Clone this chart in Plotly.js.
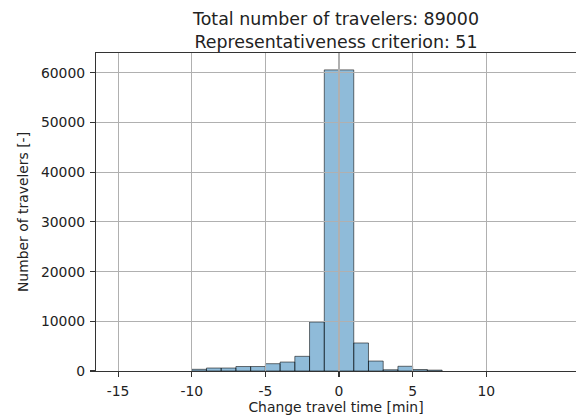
<!DOCTYPE html>
<html>
<head>
<meta charset="utf-8">
<script src="https://cdn.plot.ly/plotly-3.0.1.min.js"></script>
<style>
html, body { margin: 0; padding: 0; overflow: hidden; background: #fff; width: 576px; height: 419px; }
#chart { width: 576px; height: 419px; }
</style>
</head>
<body>
<div id="chart"></div>
<script>
// Histogram bins (change in travel time, minutes) and counts
const binLeft  = [-10, -9, -8, -7, -6, -5, -4, -3, -2, -1, 1, 2, 3, 4, 5, 6];
const binRight = [-9, -8, -7, -6, -5, -4, -3, -2, -1, 1, 2, 3, 4, 5, 6, 7];
const counts   = [340, 600, 600, 900, 900, 1470, 1800, 2950, 9850, 60600, 5640, 2000, 250, 950, 300, 180];
const xTicks = [-15, -10, -5, 0, 5, 10];
const yTicks = [0, 10000, 20000, 30000, 40000, 50000, 60000];
const titleLines = ['Total number of travelers: 89000', 'Representativeness criterion: 51'];
const xLabel = 'Change travel time [min]';
const yLabel = 'Number of travelers [-]';

const centers = binLeft.map((l, i) => (l + binRight[i]) / 2);
const widths = binLeft.map((l, i) => binRight[i] - l);

const FONT = 'DejaVu Sans, sans-serif';
const xRange = [-16.5, 16.09];
const yRange = [0, 64000];

const bars = {
  type: 'bar',
  x: centers,
  y: counts,
  width: widths,
  xaxis: 'x',
  yaxis: 'y',
  marker: { color: 'rgba(31,119,180,0.5)', line: { color: 'rgba(0,0,0,0.55)', width: 1 } },
  hoverinfo: 'x+y',
  showlegend: false
};
const overlay = { type: 'scatter', x: [], y: [], xaxis: 'x2', yaxis: 'y2', showlegend: false, hoverinfo: 'skip' };

const layout = {
  width: 576, height: 419,
  margin: { l: 96, r: 0, t: 53, b: 48 },
  paper_bgcolor: '#fff',
  plot_bgcolor: 'rgba(0,0,0,0)',
  font: { family: FONT, size: 13.9, color: '#222' },
  bargap: 0,
  title: {
    text: titleLines.join('<br>'),
    font: { family: FONT, size: 17.4, color: '#222' },
    x: 0.5, xref: 'paper', xanchor: 'center',
    y: 1, yref: 'container', yanchor: 'top',
    pad: { t: 25 }
  },
  xaxis: { range: xRange, visible: false, fixedrange: true },
  yaxis: { range: yRange, visible: false, fixedrange: true },
  xaxis2: {
    anchor: 'y2', domain: [0, 1], range: xRange,
    tickmode: 'array', tickvals: xTicks, ticktext: xTicks.map(String),
    showgrid: true, gridcolor: '#b0b0b0', gridwidth: 1.1,
    zeroline: false, showline: true, mirror: true, linecolor: '#333', linewidth: 1.1,
    ticks: 'outside', ticklen: 5, tickwidth: 1.1, tickcolor: '#333', ticklabelstandoff: 2,
    tickfont: { family: FONT, size: 13.9, color: '#222' },
    title: { text: xLabel, font: { family: FONT, size: 13.9, color: '#222' }, standoff: 0 },
    automargin: false
  },
  yaxis2: {
    anchor: 'x2', domain: [0, 1], range: yRange,
    tickmode: 'array', tickvals: yTicks, ticktext: yTicks.map(String),
    showgrid: true, gridcolor: '#b0b0b0', gridwidth: 1.1,
    zeroline: false, showline: true, mirror: false, linecolor: '#333', linewidth: 1.1,
    ticks: 'outside', ticklen: 5, tickwidth: 1.1, tickcolor: '#333', ticklabelstandoff: 2,
    tickfont: { family: FONT, size: 13.9, color: '#222' },
    title: { text: yLabel, font: { family: FONT, size: 13.9, color: '#222' }, standoff: 9 },
    automargin: false
  }
};

Plotly.newPlot('chart', [bars, overlay], layout, { staticPlot: true, displayModeBar: false });
</script>
</body>
</html>
